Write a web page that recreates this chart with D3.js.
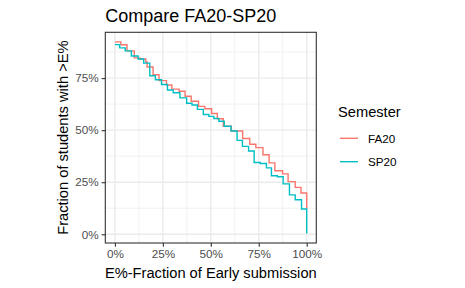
<!DOCTYPE html>
<html>
<head>
<meta charset="utf-8">
<script src="https://cdn.jsdelivr.net/npm/d3@7"></script>
<style>
    body { margin: 0; background: #fff; }
    svg { display: block; font-family: "Liberation Sans", Arial, sans-serif; }
</style>
</head>
<body>
<div id="chart"></div>
<script>
var semesters = ['FA20', 'SP20']
var semesterColors = ['#F8766D', '#00BFC4']

// E% where each step starts, and fraction of students above it
var fa20X = [0, .031, .063, .101, .13, .161, .168, .199, .23, .269, .297, .335, .366, .398, .436, .469,
    .504, .534, .565, .607, .666, .703, .735, .772, .804, .834, .874, .903, .94, .97, 1]
var fa20Y = [.924, .910, .881, .847, .842, .827, .803, .766, .738, .717, .697, .687, .663, .639, .614, .603,
    .580, .555, .519, .496, .460, .432, .416, .382, .343, .305, .290, .253, .225, .198, .121]

var sp20X = [0, .025, .054, .086, .121, .15, .182, .211, .243, .274, .304, .339, .374, .402, .43, .461,
    .49, .516, .542, .57, .605, .637, .665, .697, .726, .758, .79, .816, .847, .877, .91, .94, .973, 1]
var sp20Y = [.911, .895, .881, .856, .842, .822, .761, .742, .719, .693, .680, .655, .629, .621, .600, .575,
    .566, .556, .543, .519, .496, .451, .422, .400, .345, .340, .319, .281, .276, .242, .189, .166, .121, .004]

var xTicks = [0, .25, .5, .75, 1]
var xMinor = [.125, .375, .625, .875]
var yTicks = [0, .25, .5, .75]
var yMinor = [.125, .375, .625, .875]

var width = 465
var height = 288
var panel = {left: 105.3, right: 316.3, top: 32.3, bottom: 243}

function toPoints(xs, ys) {
    return xs.map(function(x, i) { return {x: x, y: ys[i]} })
}
var series = [
    {name: semesters[0], color: semesterColors[0], points: toPoints(fa20X, fa20Y)},
    {name: semesters[1], color: semesterColors[1], points: toPoints(sp20X, sp20Y)}
]

function expand(ext) {
    var pad = (ext[1] - ext[0]) * 0.05
    return [ext[0] - pad, ext[1] + pad]
}
var xExt = d3.extent(fa20X.concat(sp20X))
var yExt = d3.extent(fa20Y.concat(sp20Y))

var x = d3.scaleLinear().domain(expand(xExt)).range([panel.left, panel.right])
var y = d3.scaleLinear().domain(expand(yExt)).range([panel.bottom, panel.top])
var pct = d3.format('.0%')

var svg = d3.select('#chart').append('svg')
    .attr('width', width)
    .attr('height', height)

svg.append('rect').attr('width', width).attr('height', height).attr('fill', '#fff')

// grid
var grid = svg.append('g')
grid.selectAll('.xminor').data(xMinor).enter().append('line')
    .attr('x1', d => x(d)).attr('x2', d => x(d))
    .attr('y1', panel.top).attr('y2', panel.bottom)
    .attr('stroke', '#EBEBEB').attr('stroke-width', 0.7)
grid.selectAll('.yminor').data(yMinor).enter().append('line')
    .attr('y1', d => y(d)).attr('y2', d => y(d))
    .attr('x1', panel.left).attr('x2', panel.right)
    .attr('stroke', '#EBEBEB').attr('stroke-width', 0.7)
grid.selectAll('.xmajor').data(xTicks).enter().append('line')
    .attr('x1', d => x(d)).attr('x2', d => x(d))
    .attr('y1', panel.top).attr('y2', panel.bottom)
    .attr('stroke', '#EBEBEB').attr('stroke-width', 1.4)
grid.selectAll('.ymajor').data(yTicks).enter().append('line')
    .attr('y1', d => y(d)).attr('y2', d => y(d))
    .attr('x1', panel.left).attr('x2', panel.right)
    .attr('stroke', '#EBEBEB').attr('stroke-width', 1.4)

// step curves
var line = d3.line()
    .x(d => x(d.x))
    .y(d => y(d.y))
    .curve(d3.curveStepAfter)

svg.append('g').selectAll('path').data(series).enter().append('path')
    .attr('d', d => line(d.points))
    .attr('fill', 'none')
    .attr('stroke', d => d.color)
    .attr('stroke-width', 1.4)

// panel border
svg.append('rect')
    .attr('x', panel.left).attr('y', panel.top)
    .attr('width', panel.right - panel.left).attr('height', panel.bottom - panel.top)
    .attr('fill', 'none').attr('stroke', '#333333').attr('stroke-width', 1.1)

// axes
var xAxis = svg.append('g')
    .attr('transform', 'translate(0,' + panel.bottom + ')')
    .call(d3.axisBottom(x).tickValues(xTicks).tickFormat(pct).tickSizeOuter(0).tickSize(3.7).tickPadding(3))
var yAxis = svg.append('g')
    .attr('transform', 'translate(' + panel.left + ',0)')
    .call(d3.axisLeft(y).tickValues(yTicks).tickFormat(pct).tickSizeOuter(0).tickSize(3.7).tickPadding(3))

;[xAxis, yAxis].forEach(function(ax) {
    ax.select('.domain').remove()
    ax.selectAll('.tick line').attr('stroke', '#333333').attr('stroke-width', 1.1)
    ax.selectAll('.tick text')
        .attr('fill', '#4D4D4D')
        .style('font-size', '11.7px')
        .style('font-family', '"Liberation Sans", Arial, sans-serif')
})

// titles
svg.append('text')
    .attr('x', panel.left).attr('y', 21.5)
    .style('font-size', '18px')
    .text('Compare FA20-SP20')

svg.append('text')
    .attr('x', (panel.left + panel.right) / 2).attr('y', 278)
    .attr('text-anchor', 'middle')
    .style('font-size', '14.67px')
    .text('E%-Fraction of Early submission')

svg.append('text')
    .attr('transform', 'translate(67.5,' + ((panel.top + panel.bottom) / 2) + ') rotate(-90)')
    .attr('text-anchor', 'middle')
    .style('font-size', '14.67px')
    .text('Fraction of students with >E%')

// legend
var legend = svg.append('g').attr('transform', 'translate(338,0)')
legend.append('text')
    .attr('x', 0).attr('y', 117.3)
    .style('font-size', '14.67px')
    .text('Semester')

var keys = legend.selectAll('.key').data(series).enter().append('g')
    .attr('transform', (d, i) => 'translate(0,' + (138.3 + i * 23.4) + ')')
keys.append('line')
    .attr('x1', 2).attr('x2', 20)
    .attr('stroke', d => d.color).attr('stroke-width', 1.4)
keys.append('text')
    .attr('x', 30).attr('y', 4.2)
    .style('font-size', '11.7px')
    .text(d => d.name)
</script>
</body>
</html>
